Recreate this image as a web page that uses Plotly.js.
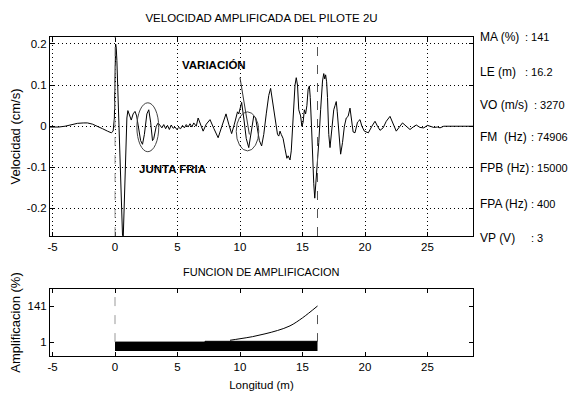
<!DOCTYPE html>
<html>
<head>
<meta charset="utf-8">
<script src="https://cdn.plot.ly/plotly-3.0.1.min.js"></script>
<style>html,body{margin:0;padding:0;background:#fff;}#chart{width:570px;height:395px;}</style>
</head>
<body>
<div id="chart"></div>
<script>
// ---- data ----
const posX = [-5.2,-4.5,-4,-3.5,-3,-2.5,-2.2,-1.8,-1.4,-1.0,-0.6,-0.3,-0.15,-0.05,0.0,0.05,0.1,0.15,0.22,0.3,0.38,0.45,0.52,0.6,0.66,0.72,0.8,0.88,0.95,1.03,1.15,1.3,1.45,1.6,1.73,1.9,2.05,2.2,2.35,2.55,2.7,2.85,3.0,3.1,3.3,3.45,3.6,3.75,3.9,4.05,4.2,4.35,4.5,4.65,4.8,4.95,5.1,5.25,5.4,5.55,5.7,5.85,6.0,6.15,6.3,6.5,6.65,6.85,7.05,7.3,7.6,7.9,8.25,8.55,8.88,9.1,9.33,9.55,9.8,9.9,10.13,10.3,10.5,10.7,10.9,11.1,11.25,11.4,11.55,11.73,11.9,12.1,12.3,12.45,12.6,12.8,13.0,13.1,13.2,13.3,13.45,13.6,13.75,13.85,14.0,14.1,14.25,14.4,14.5,14.6,14.7,14.85,14.95,15.05,15.15,15.25,15.35,15.45,15.55,15.62,15.72,15.82,15.9,15.98,16.05,16.12,16.2,16.3,16.45,16.6,16.7,16.78,16.85,16.93,17.0,17.1,17.2,17.35,17.5,17.6,17.7,17.78,17.9,18.05,18.2,18.35,18.5,18.65,18.8,18.9,19.05,19.2,19.4,19.6,19.75,19.95,20.27,20.55,20.8,21.0,21.2,21.45,21.7,22.0,22.25,22.5,22.75,23.0,23.3,23.6,23.85,24.1,24.4,24.7,25.0,25.2,25.5,25.8,26.0,26.3,27.0,28.64];
const velocity = [-0.002,-0.002,0.0,0.004,0.007,0.008,0.008,0.005,0.0,-0.006,-0.012,-0.016,-0.012,0.02,0.12,0.2,0.19,0.16,0.09,0.02,-0.06,-0.15,-0.22,-0.265,-0.27,-0.2,-0.1,-0.02,0.02,0.038,0.028,0.015,0.03,0.036,0.025,-0.01,-0.035,-0.044,-0.02,0.03,0.04,0.01,-0.035,-0.03,0.0,0.008,0.002,-0.004,0.004,-0.006,0.002,-0.008,0.003,-0.005,-0.002,-0.008,-0.003,-0.006,0.002,-0.004,0.004,-0.002,0.006,-0.002,0.008,0.0,0.02,0.004,-0.012,0.005,0.016,-0.005,-0.028,0.0,0.03,0.005,-0.018,0.005,0.035,0.03,0.058,0.02,-0.03,-0.052,-0.01,0.025,0.02,-0.01,-0.035,-0.048,-0.02,0.03,0.075,0.092,0.06,0.01,-0.02,-0.024,-0.012,-0.02,-0.03,-0.055,-0.078,-0.072,-0.082,-0.06,0.02,0.1,0.118,0.1,0.04,0.025,0.0,0.01,0.04,0.03,0.05,0.09,0.098,0.07,0.0,-0.1,-0.14,-0.175,-0.15,-0.12,-0.09,-0.04,0.04,0.11,0.128,0.115,0.125,0.108,0.07,-0.02,-0.052,0.0,0.04,0.05,0.06,0.035,-0.02,-0.068,-0.04,0.0,0.02,0.024,0.044,0.02,-0.014,-0.016,0.01,0.016,0.0,-0.012,-0.016,0.0,0.012,0.0,-0.01,-0.004,0.012,0.024,0.005,-0.012,-0.002,0.008,0.0,-0.008,-0.002,0.003,-0.003,-0.004,0.002,0.0,-0.003,-0.002,-0.004,0.0,0.0,0.0];

const ampX = [9.2,10,11,12,13,14,15,16.2];
const ampY = [8,14,22,33,46,64,95,141];
const barX = [0,7.2,7.2,16.2];
const barTop = [1,1,4,4];
const barBottom = -34;
const pileLength = 16.2;

const xTicks = [-5,0,5,10,15,20,25];
const xTickText = ['-5','0','5','10','15','20','25'];
const yTicksTop = [-0.2,-0.1,0,0.1,0.2];
const yTickTextTop = ['-0.2','-0.1','0','0.1','0.2'];
const yTicksBot = [1,141];
const yTickTextBot = ['1','141'];

const infoLabels = ['MA (%)','LE (m)','VO (m/s)','FM  (Hz)','FPB (Hz)','FPA (Hz)','VP (V)'];
const infoValues = [': 141',': 16.2',': 3270',': 74906',': 15000',': 400',': 3'];
const infoValueX = [523,523,532,529,529,529,529];
const infoY = [37,72,105,137,168,204,238];

// ---- drawing ----
const NARROW = '"Liberation Sans Narrow", "Arial Narrow", "Liberation Sans", Arial, sans-serif';
const REG = '"Liberation Sans", Arial, sans-serif';

const traces = [
  {x: posX, y: velocity, xaxis:'x', yaxis:'y', type:'scatter', mode:'lines',
   line:{color:'#000', width:1}, hoverinfo:'skip', showlegend:false},
  {x: barX, y: barX.map(()=>barBottom), xaxis:'x2', yaxis:'y2', type:'scatter', mode:'lines',
   line:{color:'#000', width:0}, showlegend:false, hoverinfo:'skip'},
  {x: barX, y: barTop, xaxis:'x2', yaxis:'y2', type:'scatter', mode:'lines',
   fill:'tonexty', fillcolor:'#000', line:{color:'#000', width:1}, showlegend:false, hoverinfo:'skip'},
  {x: ampX, y: ampY, xaxis:'x2', yaxis:'y2', type:'scatter', mode:'lines', line:{color:'#000', width:1, shape:'spline'},
   showlegend:false, hoverinfo:'skip'}
];

const L = 50, R = 473, T = 37, B = 356;
const PW = R - L, PH = B - T;
const px2paperX = p => (p - L) / PW;
const py2paperY = p => (B - p) / PH;

const axisCommon = {
  showline:true, linecolor:'#000', linewidth:1, mirror:'allticks',
  ticks:'inside', ticklen:4, tickcolor:'#000', zeroline:false,
  tickfont:{family:NARROW, size:11.5, color:'#000'}
};
const xr = [-5.2, 28.64];

const annotations = [
  {xref:'paper', yref:'paper', x:0.5, y:py2paperY(272), text:'FUNCION DE AMPLIFICACION', showarrow:false,
   font:{family:NARROW, size:11, color:'#000'}, xanchor:'center', yanchor:'middle'},
  {xref:'x', yref:'y', x:7.9, y:0.149, text:'<b>VARIACIÓN</b>', showarrow:false,
   font:{family:NARROW, size:11.5, color:'#000'}, xanchor:'center', yanchor:'middle'},
  {xref:'x', yref:'y', x:4.6, y:-0.104, text:'<b>JUNTA FRIA</b>', showarrow:false,
   font:{family:NARROW, size:11.5, color:'#000'}, xanchor:'center', yanchor:'middle'}
];
infoLabels.forEach((lab,i)=>{
  annotations.push({xref:'paper', yref:'paper', x:px2paperX(478), y:py2paperY(infoY[i]), text:lab, showarrow:false,
    xanchor:'left', yanchor:'middle', font:{family:NARROW, size:12, color:'#000'}});
  annotations.push({xref:'paper', yref:'paper', x:px2paperX(infoValueX[i]), y:py2paperY(infoY[i]), text:infoValues[i], showarrow:false,
    xanchor:'left', yanchor:'middle', font:{family:NARROW, size:11, color:'#000'}});
});

const shapes = [
  {type:'line', xref:'x', yref:'y domain', x0:0, x1:0, y0:0, y1:1, line:{color:'#999', width:1, dash:'dash'}},
  {type:'line', xref:'x', yref:'y domain', x0:pileLength, x1:pileLength, y0:0, y1:1, line:{color:'#555', width:1, dash:'dash'}},
  {type:'line', xref:'x2', yref:'y2', x0:0, x1:0, y0:1, y1:207, line:{color:'#999', width:1, dash:'dash'}},
  {type:'line', xref:'x2', yref:'y2', x0:pileLength, x1:pileLength, y0:1, y1:141, line:{color:'#555', width:1, dash:'dash'}},
  {type:'circle', xref:'x', yref:'y', x0:1.75, x1:3.5, y0:-0.062, y1:0.057, line:{color:'#444', width:1}},
  {type:'circle', xref:'x', yref:'y', x0:9.7, x1:11.5, y0:-0.06, y1:0.035, line:{color:'#444', width:1}},
  {type:'line', xref:'x', yref:'y', x0:10.0, y0:0.118, x1:10.75, y1:-0.02, line:{color:'#333', width:1}}
];

const layout = {
  width:570, height:395,
  margin:{l:L, r:570-R, t:T, b:395-B, pad:0},
  paper_bgcolor:'#fff', plot_bgcolor:'#fff',
  showlegend:false,
  title:{text:'VELOCIDAD AMPLIFICADA DEL PILOTE 2U', x:0.5, xref:'paper', xanchor:'center',
         y:1-18/395, yref:'container', yanchor:'middle', font:{family:NARROW, size:11.5, color:'#000'}},
  xaxis: Object.assign({}, axisCommon, {domain:[0,1], anchor:'y', range:xr, tickvals:xTicks, ticktext:xTickText,
    showgrid:true, gridcolor:'#000', griddash:'1px,3px', gridwidth:1}),
  yaxis: Object.assign({}, axisCommon, {domain:[(B-236)/PH,1], anchor:'x', range:[-0.267,0.217],
    tickvals:yTicksTop, ticktext:yTickTextTop, showgrid:true, gridcolor:'#000', griddash:'1px,3px', gridwidth:1,
    title:{text:'Velocidad (cm/s)', standoff:3, font:{family:REG, size:13, color:'#000'}}}),
  xaxis2: Object.assign({}, axisCommon, {domain:[0,1], anchor:'y2', range:xr, tickvals:xTicks, ticktext:xTickText, showgrid:false,
    title:{text:'Longitud (m)', standoff:9, font:{family:NARROW, size:11.5, color:'#000'}}}),
  yaxis2: Object.assign({}, axisCommon, {domain:[0,(B-289)/PH], anchor:'x2', range:[-53,207],
    tickvals:yTicksBot, ticktext:yTickTextBot, showgrid:false,
    title:{text:'Amplificacion (%)', standoff:3, font:{family:REG, size:13, color:'#000'}}}),
  annotations: annotations,
  shapes: shapes
};

Plotly.newPlot('chart', traces, layout, {staticPlot:true, displayModeBar:false});
</script>
</body>
</html>
